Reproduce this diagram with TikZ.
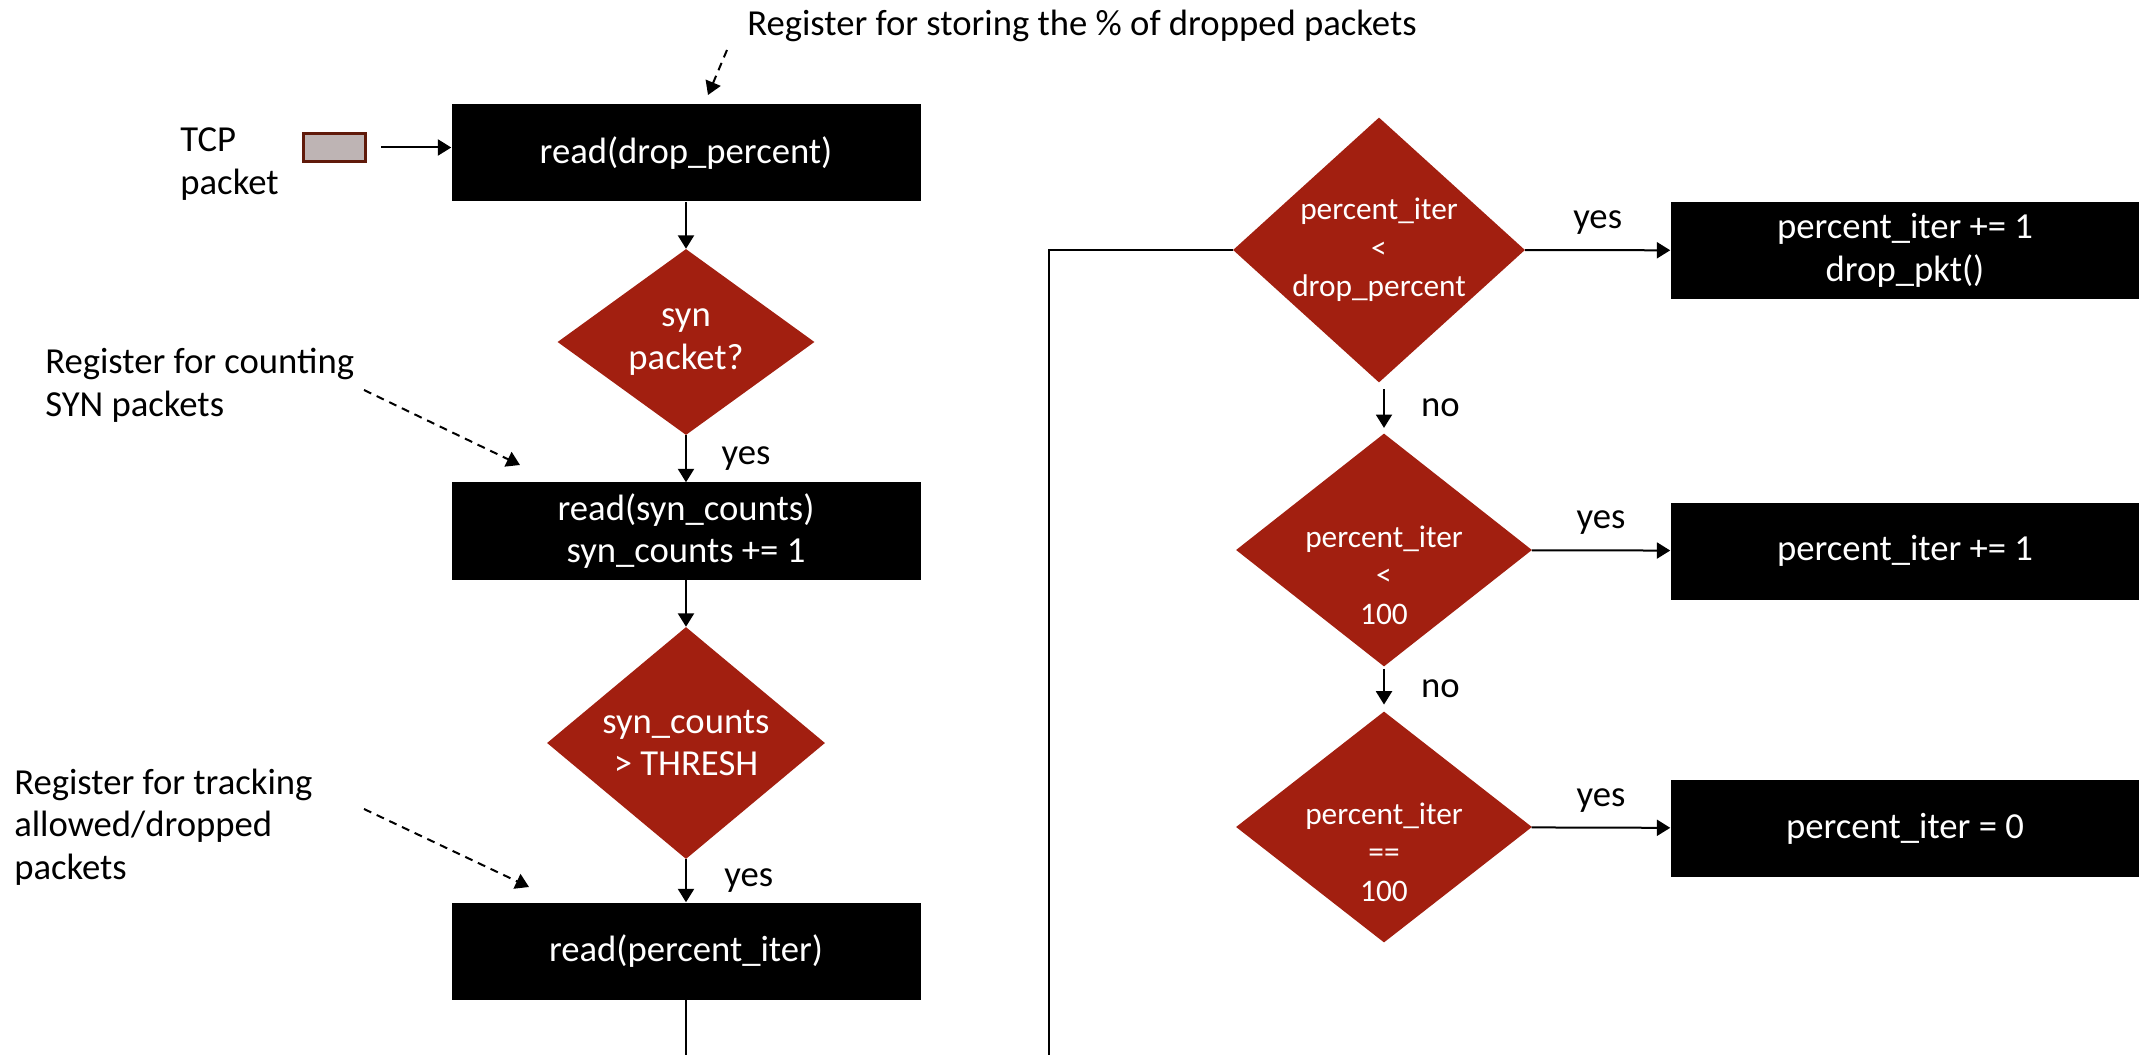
\documentclass[tikz,border=0pt]{standalone}
\usepackage{fontspec}
\setmainfont{Carlito}
\usetikzlibrary{shapes.geometric, arrows.meta, positioning}
\definecolor{decred}{RGB}{162,31,16}
\definecolor{pktgray}{RGB}{190,180,180}
\definecolor{pktbrown}{RGB}{96,26,10}
\newcommand\flowfont{\fontsize{27.5}{32}\selectfont}
\newcommand\condfont{\fontsize{23.5}{29}\selectfont}
\tikzset{
  opbox/.style={rectangle, fill=black, text=white, align=center, font=\flowfont,
    minimum width=351.75pt, minimum height=72.75pt, inner sep=0pt},
  decision/.style={diamond, fill=decred, inner sep=0pt},
  dtext/.style={text=white, align=center, inner sep=0pt},
  note/.style={font=\flowfont, align=left, inner sep=0pt},
  branch/.style={font=\flowfont, inner sep=0pt},
  flow/.style={line width=1.5pt, -{Triangle[length=10pt, width=12pt]}},
  hint/.style={line width=1.5pt, dash pattern=on 6pt off 4.5pt, -{Triangle[length=10pt, width=12pt]}},
}
\begin{document}
\begin{tikzpicture}[x=0.75pt, y=-0.75pt]
  \useasboundingbox (0,0) rectangle (2139,1055);
  % left column: read registers
  \node[opbox] (rdrop) at (686,153) {read(drop\_percent)};
  \node[decision, minimum width=192.75pt, minimum height=139.5pt,
        label={[dtext, font=\flowfont]center:{syn\\packet?}}] (issyn) at (686,342) {};
  \node[opbox] (rsyn) at (686,531) {read(syn\_counts)\\syn\_counts += 1};
  \node[decision, minimum width=208.5pt, minimum height=174pt,
        label={[dtext, font=\flowfont]center:{syn\_counts\\> THRESH}}] (over) at (686,743) {};
  \node[opbox] (riter) at (686,951) {read(percent\_iter)};

  % incoming packet
  \node[rectangle, fill=pktgray, draw=pktbrown, line width=2.25pt,
        minimum width=46.5pt, minimum height=21pt, inner sep=0pt] (pkt) at (334.5,147.5) {};
  \node[note] (tcp) at (229.5,164) {TCP\\packet};

  % annotations
  \node[note, anchor=west] (storenote) at (747,26) {Register for storing the \% of dropped packets};
  \node[note, anchor=west] (cntnote) at (45,385) {Register for counting\\SYN packets};
  \node[note, anchor=west] (trknote) at (14,827) {Register for tracking\\allowed/dropped\\packets};
  \coordinate (storetail) at (727,50);
  \coordinate (storehead) at (708,95);
  \coordinate (cnttail) at (364,390);
  \coordinate (cnthead) at (520,465);
  \coordinate (trktail) at (364,809);
  \coordinate (trkhead) at (529,887);

  % right column: percentage logic
  \node[decision, minimum width=219pt, minimum height=198.75pt,
        label={[dtext, font=\condfont]center:{percent\_iter\\<\\drop\_percent}}] (chkdrop) at (1379,250) {};
  \node[decision, minimum width=222pt, minimum height=174.75pt,
        label={[dtext, font=\condfont, yshift=-18.75pt]center:{percent\_iter\\<\\100}}] (chklow) at (1384,550) {};
  \node[decision, minimum width=222pt, minimum height=173.25pt,
        label={[dtext, font=\condfont, yshift=-18.75pt]center:{percent\_iter\\==\\100}}] (chkwrap) at (1384,827) {};
  \node[opbox] (dropit) at (1905,250.5) {percent\_iter += 1\\drop\_pkt()};
  \node[opbox] (incit) at (1905,551) {percent\_iter += 1};
  \node[opbox] (resetit) at (1905,828.5) {percent\_iter = 0};
  \coordinate (loopend) at (1049,1055);

  % connectors
  \draw[flow, shorten <=10.5pt] (pkt.east) -- (pkt.east -| rdrop.west);
  \draw[flow] (rdrop) -- (issyn);
  \draw[flow] (issyn) -- node[branch, midway, right=26pt] {yes} (rsyn);
  \draw[flow] (rsyn) -- (over);
  \draw[flow] (over) -- node[branch, midway, right=28pt] {yes} (riter);
  \draw[line width=1.5pt] (riter.south) -- (riter.south |- loopend);
  \draw[line width=1.5pt] (chkdrop.west) -| (loopend);

  \draw[flow] (chkdrop) -- node[branch, midway, above=11pt] {yes} (dropit);
  \draw[flow] (chklow) -- node[branch, midway, above=11pt] {yes} (incit);
  \draw[flow] (chkwrap) -- node[branch, midway, above=11pt] {yes} (resetit);
  \draw[flow, shorten <=5pt, shorten >=4pt] (chklow.north |- chkdrop.south)
    -- node[branch, midway, right=27pt] {no} (chklow.north);
  \draw[flow, shorten <=1.5pt, shorten >=5pt] (chklow) -- node[branch, midway, right=27pt] {no} (chkwrap);

  \draw[hint] (storetail) -- (storehead);
  \draw[hint] (cnttail) -- (cnthead);
  \draw[hint] (trktail) -- (trkhead);
\end{tikzpicture}
\end{document}
